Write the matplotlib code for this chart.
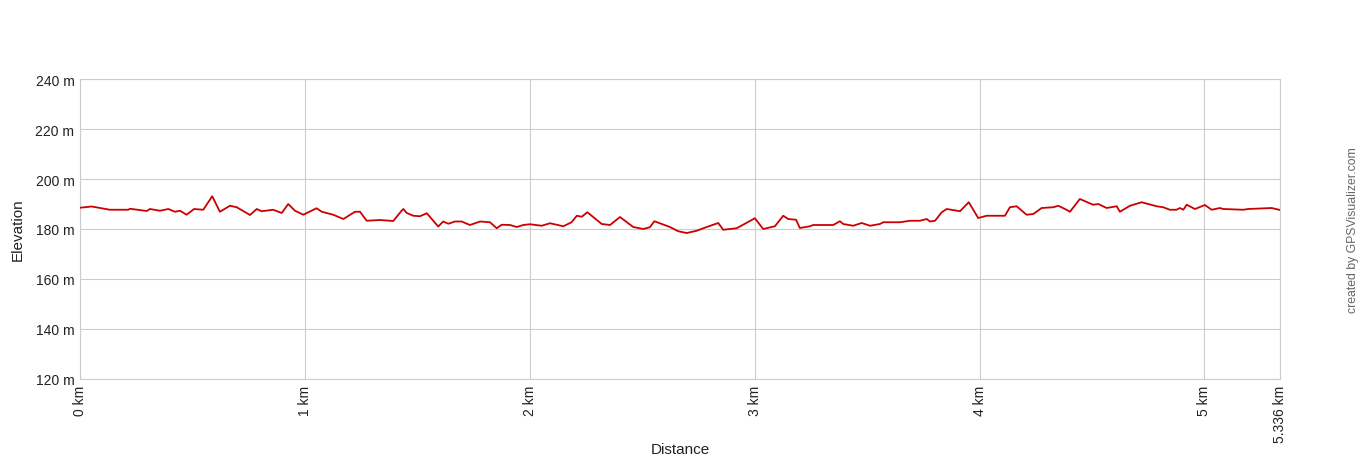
import matplotlib
matplotlib.use('Agg')
import matplotlib.pyplot as plt
from matplotlib.ticker import FixedLocator

# distance along track (km) and elevation (m)
dist_km = [0, 0.052, 0.133, 0.215, 0.222, 0.297, 0.311, 0.356, 0.393, 0.422,
           0.445, 0.474, 0.507, 0.548, 0.588, 0.622, 0.667, 0.697, 0.756, 0.786,
           0.808, 0.859, 0.897, 0.926, 0.956, 0.993, 1.052, 1.075, 1.126, 1.171,
           1.223, 1.245, 1.275, 1.334, 1.393, 1.430, 1.438, 1.453, 1.482, 1.512,
           1.542, 1.593, 1.615, 1.638, 1.667, 1.697, 1.734, 1.779, 1.823, 1.853,
           1.875, 1.912, 1.942, 1.971, 2.001, 2.053, 2.090, 2.149, 2.186, 2.209,
           2.231, 2.256, 2.320, 2.357, 2.401, 2.460, 2.505, 2.534, 2.554, 2.623,
           2.660, 2.698, 2.742, 2.787, 2.838, 2.860, 2.920, 3.001, 3.038, 3.090,
           3.127, 3.149, 3.184, 3.201, 3.246, 3.260, 3.349, 3.379, 3.394, 3.438,
           3.476, 3.513, 3.557, 3.572, 3.646, 3.691, 3.735, 3.765, 3.779, 3.802,
           3.832, 3.854, 3.913, 3.952, 3.994, 4.032, 4.113, 4.135, 4.165, 4.209,
           4.239, 4.276, 4.328, 4.350, 4.380, 4.402, 4.446, 4.505, 4.528, 4.565,
           4.610, 4.624, 4.669, 4.721, 4.787, 4.817, 4.846, 4.876, 4.891, 4.906,
           4.921, 4.958, 5.002, 5.032, 5.069, 5.083, 5.173, 5.195, 5.299, 5.336]
elev_m = [188.5, 189.0, 187.7, 187.7, 188.1, 187.2, 188.0, 187.3, 188.0, 186.9,
          187.3, 185.7, 188.0, 187.7, 193.1, 186.9, 189.3, 188.7, 185.6, 188.0,
          187.1, 187.7, 186.4, 190.0, 187.3, 185.7, 188.3, 186.9, 185.7, 184.0,
          186.9, 186.9, 183.3, 183.6, 183.2, 187.3, 188.0, 186.4, 185.3, 185.1,
          186.3, 181.0, 183.0, 182.1, 183.0, 183.0, 181.6, 183.0, 182.7, 180.3,
          181.7, 181.6, 180.8, 181.6, 181.9, 181.3, 182.3, 181.1, 182.7, 185.3,
          184.9, 186.7, 182.0, 181.6, 184.8, 180.8, 180.0, 180.7, 183.1, 180.8,
          179.1, 178.4, 179.3, 180.8, 182.4, 179.7, 180.3, 184.3, 180.0, 181.1,
          185.3, 184.0, 183.7, 180.4, 181.1, 181.6, 181.6, 183.1, 182.0, 181.3,
          182.4, 181.3, 182.0, 182.7, 182.7, 183.3, 183.3, 184.0, 183.0, 183.3,
          186.7, 188.0, 187.1, 190.7, 184.4, 185.3, 185.3, 188.7, 189.1, 185.7,
          186.0, 188.4, 188.7, 189.3, 188.0, 186.9, 192.0, 189.7, 190.0, 188.4,
          189.1, 186.9, 189.3, 190.7, 189.1, 188.7, 187.7, 187.7, 188.4, 187.7,
          189.7, 188.0, 189.6, 187.7, 188.4, 188.0, 187.7, 188.0, 188.4, 187.6]

x_ticks = [0, 1, 2, 3, 4, 5, 5.336]
x_labels = ['0 km', '1 km', '2 km', '3 km', '4 km', '5 km', '5.336 km']
y_ticks = [120, 140, 160, 180, 200, 220, 240]

plt.rcParams['font.family'] = ['Liberation Sans', 'DejaVu Sans']

fig = plt.figure(figsize=(13.6, 4.6), dpi=100)
ax = fig.add_axes([80 / 1360, 80 / 460, 1200 / 1360, 300 / 460])

ax.plot(dist_km, elev_m, color='#cc0000', linewidth=1.3, zorder=3)

ax.set_xlim(0, 5.336)
ax.set_ylim(120, 240)
ax.xaxis.set_major_locator(FixedLocator(x_ticks))
ax.set_xticklabels(x_labels, rotation=90, fontsize=10, color='#222222')
ax.set_yticks(y_ticks)
ax.set_yticklabels([f'{v} m' for v in y_ticks], fontsize=10, color='#222222')
ax.tick_params(length=0, pad=4)
ax.grid(True, color='#cccccc', linewidth=0.8)
ax.set_axisbelow(True)
for s in ax.spines.values():
    s.set_color('#cccccc')
    s.set_linewidth(0.8)

fig.text(680 / 1360, 1 - 450 / 460, 'Distance', ha='center', va='center',
         fontsize=11, color='#222222')
fig.text(18 / 1360, 1 - 230 / 460, 'Elevation', rotation=90, ha='center',
         va='center', fontsize=11, color='#222222')
fig.text(1353 / 1360, 1 - 230 / 460, 'created by GPSVisualizer.com', rotation=90,
         ha='center', va='center', fontsize=8.8, color='#666666')

fig.savefig('out.png', dpi=100)
